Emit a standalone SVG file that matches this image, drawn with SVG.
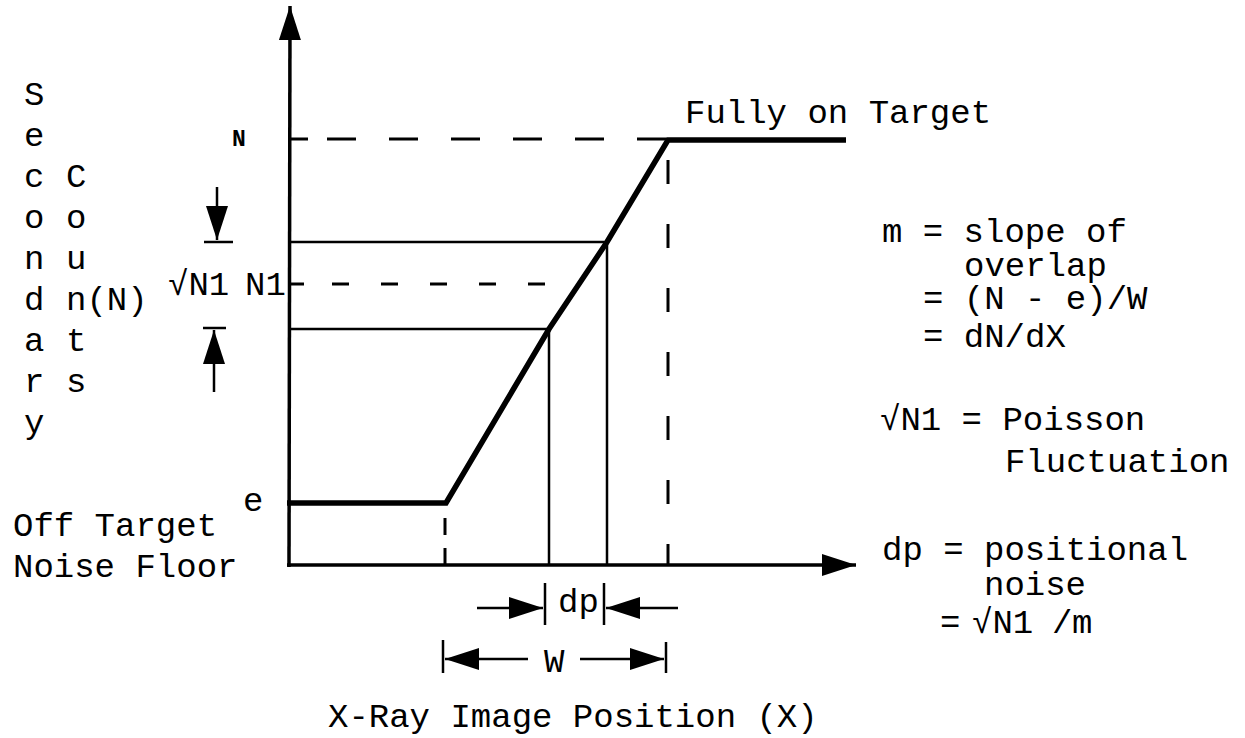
<svg xmlns="http://www.w3.org/2000/svg" width="1245" height="738" viewBox="0 0 1245 738">
<defs>
<style>
text{font-family:"Liberation Mono","Courier New",monospace;font-size:34px;fill:#000}
.ax{stroke:#000;stroke-width:3.5;fill:none}
.thin{stroke:#000;stroke-width:2.5;fill:none}
.thick{stroke:#000;stroke-width:5.5;fill:none;stroke-linejoin:miter}
.dash{stroke:#000;stroke-width:3;fill:none}
.dim{stroke:#000;stroke-width:2.5;fill:none}
</style>
<marker id="ah" markerUnits="userSpaceOnUse" markerWidth="36" markerHeight="24" refX="34" refY="11" orient="auto">
<path d="M0,0 L34,11 L0,22 Z" fill="#000"/>
</marker>
</defs>
<rect width="1245" height="738" fill="#fff"/>

<g id="axes">
<line class="ax" x1="289" y1="567" x2="290" y2="6" marker-end="url(#ah)"/>
<line class="ax" x1="287" y1="565" x2="856" y2="565" marker-end="url(#ah)"/>
</g>

<g id="curve">
<path class="thick" d="M287,503 L446,503 L549,329 L607,242 L668,140 L846,140"/>
</g>

<g id="levels">
<line class="dash" x1="290" y1="139" x2="308" y2="139"/>
<line class="dash" x1="327" y1="139" x2="666" y2="139" stroke-dasharray="29 33"/>
<path class="thin" d="M289,242 H607 V565"/>
<line class="dash" x1="290" y1="284" x2="304" y2="284"/>
<line class="dash" x1="332" y1="284" x2="553" y2="284" stroke-dasharray="17 32"/>
<path class="thin" d="M289,329 H549 V565"/>
<line class="dash" x1="668" y1="160" x2="668" y2="565" stroke-dasharray="24 40"/>
<line class="dash" x1="445" y1="518" x2="445" y2="535"/>
<line class="dash" x1="445" y1="548" x2="445" y2="565"/>
</g>

<g id="connectors">
<line class="dim" x1="217" y1="187" x2="217" y2="240" marker-end="url(#ah)"/>
<line class="dim" x1="204" y1="242" x2="233" y2="242"/>
<line class="dim" x1="214" y1="392" x2="214" y2="330" marker-end="url(#ah)"/>
<line class="dim" x1="203" y1="328" x2="226" y2="328"/>
<line class="dim" x1="477" y1="608" x2="543" y2="608" marker-end="url(#ah)"/>
<line class="dim" x1="545" y1="583" x2="545" y2="625"/>
<line class="dim" x1="678" y1="608" x2="606" y2="608" marker-end="url(#ah)"/>
<line class="dim" x1="604" y1="583" x2="604" y2="625"/>
<line class="dim" x1="528" y1="659" x2="445" y2="659" marker-end="url(#ah)"/>
<line class="dim" x1="443" y1="640" x2="443" y2="673"/>
<line class="dim" x1="580" y1="659" x2="664" y2="659" marker-end="url(#ah)"/>
<line class="dim" x1="666" y1="642" x2="666" y2="673"/>
</g>

<g id="ylabel">
<text x="24" y="105">S</text>
<text x="24" y="146">e</text>
<text x="24" y="187">c</text>
<text x="24" y="228">o</text>
<text x="24" y="269">n</text>
<text x="24" y="310">d</text>
<text x="24" y="351">a</text>
<text x="24" y="392">r</text>
<text x="24" y="433">y</text>
<text x="66" y="187">C</text>
<text x="66" y="228">o</text>
<text x="66" y="269">u</text>
<text x="66" y="310">n(N)</text>
<text x="66" y="351">t</text>
<text x="66" y="392">s</text>
</g>

<g id="axislabels">
<text x="232" y="146" style="font-size:23px;font-weight:bold">N</text>
<text x="168" y="295">√N1</text>
<text x="245" y="295">N1</text>
<text x="243" y="511">e</text>
<text x="13" y="536">Off Target</text>
<text x="13" y="577">Noise Floor</text>
<text x="685" y="123">Fully on Target</text>
<text x="558" y="612">dp</text>
<text x="544" y="672">W</text>
<text x="328" y="727">X-Ray Image Position (X)</text>
</g>

<g id="legend">
<text x="882" y="242">m = slope of</text>
<text x="964" y="276">overlap</text>
<text x="923" y="309">= (N - e)/W</text>
<text x="923" y="347">= dN/dX</text>
<text x="880" y="430">√N1 = Poisson</text>
<text x="1005" y="472">Fluctuation</text>
<text x="882" y="560">dp = positional</text>
<text x="984" y="595">noise</text>
<text y="633"><tspan x="940">=</tspan><tspan x="972">√N1</tspan><tspan x="1052">/</tspan><tspan x="1072">m</tspan></text>
</g>
</svg>
